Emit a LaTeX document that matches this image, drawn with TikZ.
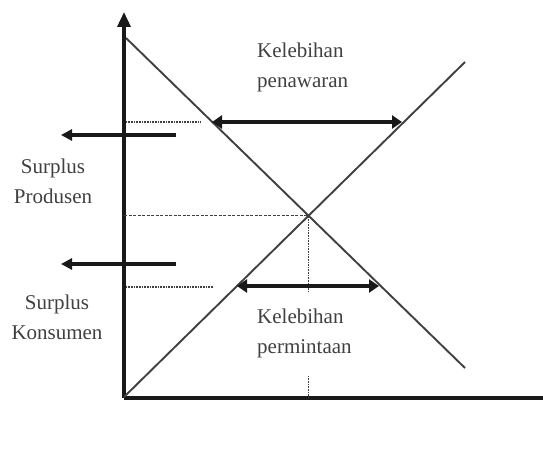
\documentclass[tikz,border=0pt]{standalone}
\usepackage{fontspec}
\setmainfont{Liberation Serif}
\usepackage{tikz}
\usetikzlibrary{positioning, arrows.meta}

\begin{document}
\begin{tikzpicture}[
  x=1pt, y=-1pt,
  axis/.style={line width=3.4pt, black!90},
  curve/.style={line width=1.9pt, black!75},
  guide/.style={line width=2pt, black!75, dash pattern=on 1pt off 0.6pt},
  eqline/.style={line width=1.3pt, black!75, dash pattern=on 3pt off 1.5pt},
  arrow/.style={-{Triangle[length=11pt, width=11pt]}, line width=3.4pt, black!90},
  dblarrow/.style={{Triangle[length=10pt, width=13pt]}-{Triangle[length=10pt, width=13pt]}, line width=3.4pt, black!90},
  label/.style={font=\fontsize{21}{30}\selectfont, text=black!75, inner sep=0pt},
  every node/.style={font=\rmfamily}
]
\useasboundingbox (0,0) rectangle (543,468);

% axes
\coordinate (O) at (124,398);
\coordinate (ytop) at (124,12);
\coordinate (xend) at (543,398);
\draw[axis, -{Triangle[length=15pt, width=13pt]}] (O) -- (ytop);
\draw[axis] (O) -- (xend);

% demand and supply
\coordinate (demA) at (126,38);
\coordinate (demB) at (465,368);
\coordinate (supA) at (124,397);
\coordinate (supB) at (465,62);
\draw[curve] (demA) -- (demB);
\draw[curve] (supA) -- (supB);
\coordinate (eq) at (intersection of demA--demB and supA--supB);

% equilibrium guides
\draw[eqline] (O |- eq) -- (eq);
\draw[guide, line width=1.1pt] (eq) -- (eq |- 0,292);
\draw[guide, line width=1.1pt] (eq |- 0,376) -- (eq |- O);

% price above equilibrium
\coordinate (hiA) at (126,122);
\coordinate (hiB) at (201,122);
\coordinate (hiL) at (212,122);
\coordinate (hiR) at (402,122);
\draw[guide] (hiA) -- (hiB);
\draw[dblarrow] (hiL) -- (hiR);

% price below equilibrium
\coordinate (loA) at (126,287);
\coordinate (loB) at (213,287);
\coordinate (loL) at (237,286);
\coordinate (loR) at (379,286);
\draw[guide] (loA) -- (loB);
\draw[dblarrow] (loL) -- (loR);

% surplus arrows
\coordinate (prodS) at (176,135);
\coordinate (prodE) at (61,135);
\coordinate (konsS) at (176,264);
\coordinate (konsE) at (61,264);
\draw[arrow] (prodS) -- (prodE);
\draw[arrow] (konsS) -- (konsE);

% labels
\node[label, align=left, anchor=west] (lebihtawar) at (257,67) {Kelebihan\\penawaran};
\node[label, align=left, anchor=west] (lebihminta) at (257,333) {Kelebihan\\permintaan};
\node[label, align=center] (produsen) at (53,181) {Surplus\\Produsen};
\node[label, align=center] (konsumen) at (57,317) {Surplus\\Konsumen};

\end{tikzpicture}
\end{document}
